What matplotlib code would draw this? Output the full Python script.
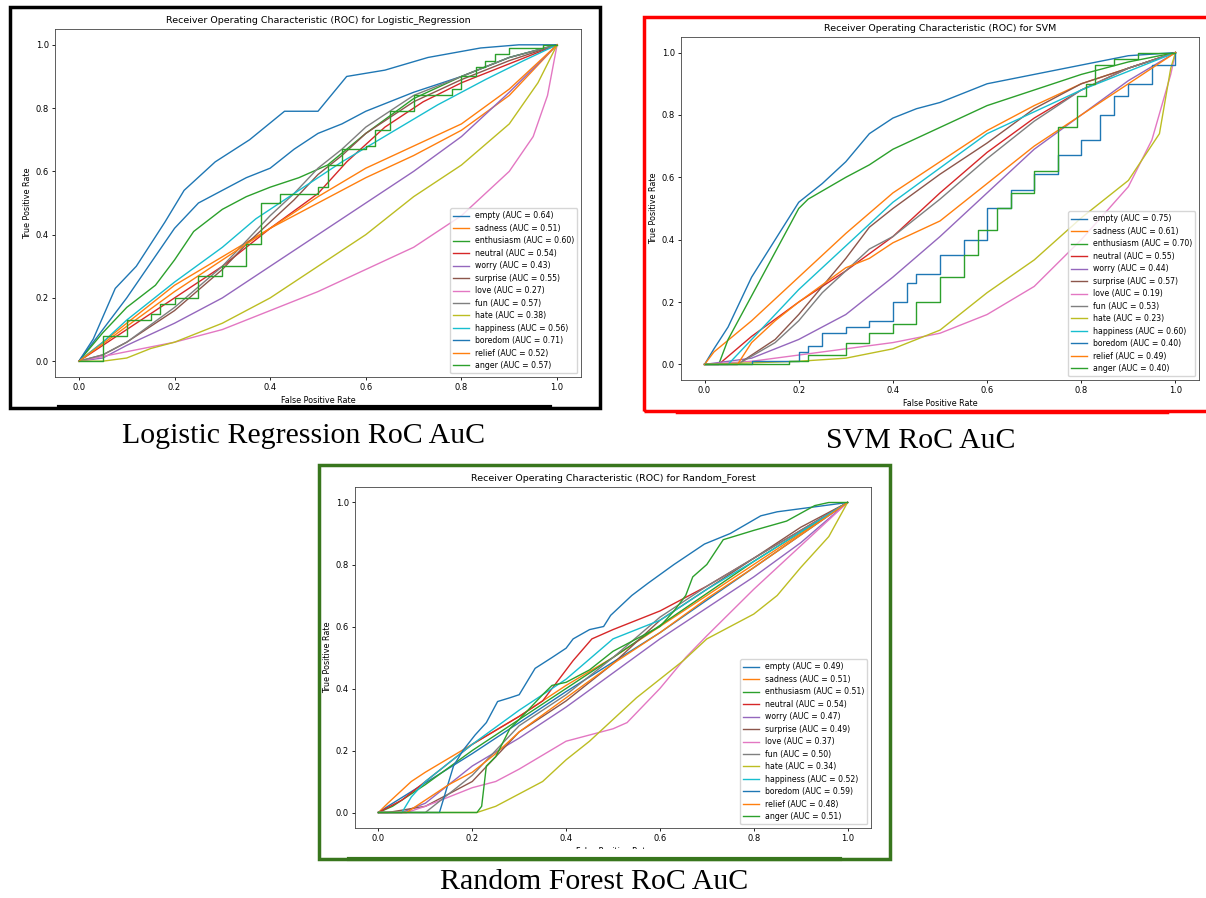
import matplotlib.pyplot as plt
from matplotlib.patches import Rectangle

# emotion classes in legend order, colours follow the tab10 cycle
emotions = ['empty', 'sadness', 'enthusiasm', 'neutral', 'worry', 'surprise', 'love',
            'fun', 'hate', 'happiness', 'boredom', 'relief', 'anger']

lr_auc = [0.64, 0.51, 0.60, 0.54, 0.43, 0.55, 0.27, 0.57, 0.38, 0.56, 0.71, 0.52, 0.57]
svm_auc = [0.75, 0.61, 0.70, 0.55, 0.44, 0.57, 0.19, 0.53, 0.23, 0.60, 0.40, 0.49, 0.40]
rf_auc = [0.49, 0.51, 0.51, 0.54, 0.47, 0.49, 0.37, 0.50, 0.34, 0.52, 0.59, 0.48, 0.51]

# (fpr, tpr) points
lr_curves = {
    'empty': [(0, 0), (0.05, 0.1), (0.1, 0.2), (0.15, 0.31), (0.2, 0.42), (0.25, 0.5), (0.3, 0.54),
              (0.35, 0.58), (0.4, 0.61), (0.45, 0.67), (0.5, 0.72), (0.55, 0.75), (0.6, 0.79),
              (0.7, 0.85), (0.8, 0.9), (0.9, 0.96), (1, 1)],
    'sadness': [(0, 0), (0.1, 0.12), (0.2, 0.24), (0.3, 0.33), (0.4, 0.42), (0.5, 0.5), (0.6, 0.58),
                (0.7, 0.65), (0.8, 0.73), (0.9, 0.84), (1, 1)],
    'enthusiasm': [(0, 0), (0.05, 0.09), (0.1, 0.17), (0.16, 0.24), (0.2, 0.32), (0.24, 0.41),
                   (0.3, 0.48), (0.35, 0.52), (0.4, 0.55), (0.46, 0.58), (0.52, 0.62), (0.6, 0.72),
                   (0.7, 0.83), (0.8, 0.9), (0.9, 0.96), (1, 1)],
    'neutral': [(0, 0), (0.05, 0.05), (0.1, 0.1), (0.2, 0.2), (0.3, 0.3), (0.4, 0.42), (0.5, 0.53),
                (0.56, 0.63), (0.64, 0.74), (0.72, 0.82), (0.8, 0.88), (0.9, 0.94), (1, 1)],
    'worry': [(0, 0), (0.05, 0.01), (0.1, 0.05), (0.2, 0.12), (0.3, 0.2), (0.4, 0.3), (0.5, 0.4),
              (0.6, 0.5), (0.7, 0.6), (0.8, 0.71), (0.9, 0.85), (1, 1)],
    'surprise': [(0, 0), (0.05, 0.02), (0.1, 0.06), (0.2, 0.16), (0.3, 0.29), (0.35, 0.37),
                 (0.4, 0.44), (0.45, 0.51), (0.5, 0.59), (0.55, 0.65), (0.6, 0.72), (0.65, 0.77),
                 (0.7, 0.82), (0.8, 0.89), (0.9, 0.95), (1, 1)],
    'love': [(0, 0), (0.1, 0.03), (0.2, 0.06), (0.3, 0.1), (0.4, 0.16), (0.5, 0.22), (0.6, 0.29),
             (0.7, 0.36), (0.8, 0.46), (0.9, 0.6), (0.95, 0.71), (0.98, 0.84), (1, 1)],
    'fun': [(0, 0), (0.05, 0.02), (0.1, 0.06), (0.2, 0.17), (0.3, 0.3), (0.35, 0.38), (0.4, 0.46),
            (0.45, 0.53), (0.5, 0.61), (0.55, 0.67), (0.6, 0.74), (0.65, 0.79), (0.7, 0.84),
            (0.8, 0.9), (0.9, 0.96), (1, 1)],
    'hate': [(0, 0), (0.05, 0.0), (0.1, 0.01), (0.15, 0.04), (0.2, 0.06), (0.3, 0.12), (0.4, 0.2),
             (0.5, 0.3), (0.6, 0.4), (0.7, 0.52), (0.8, 0.62), (0.9, 0.75), (0.96, 0.88), (1, 1)],
    'happiness': [(0, 0), (0.05, 0.06), (0.1, 0.13), (0.2, 0.25), (0.3, 0.36), (0.37, 0.45),
                  (0.45, 0.53), (0.55, 0.63), (0.65, 0.72), (0.75, 0.81), (0.85, 0.89),
                  (0.93, 0.95), (1, 1)],
    'boredom': [(0, 0), (0.03, 0.07), (0.076, 0.23), (0.12, 0.3), (0.18, 0.44), (0.22, 0.54),
                (0.285, 0.63), (0.357, 0.7), (0.43, 0.79), (0.5, 0.79), (0.56, 0.9), (0.64, 0.92),
                (0.73, 0.96), (0.84, 0.99), (0.92, 1.0), (1, 1)],
    'relief': [(0, 0), (0.1, 0.11), (0.2, 0.22), (0.3, 0.32), (0.4, 0.42), (0.5, 0.52), (0.6, 0.61),
               (0.7, 0.68), (0.8, 0.75), (0.9, 0.86), (1, 1)],
    'anger': [(0, 0), (0.04, 0.0), (0.05, 0.08), (0.1, 0.13), (0.15, 0.15), (0.17, 0.18), (0.2, 0.2),
              (0.25, 0.27), (0.3, 0.3), (0.35, 0.37), (0.38, 0.5), (0.42, 0.53), (0.5, 0.55),
              (0.52, 0.62), (0.55, 0.67), (0.6, 0.68), (0.62, 0.73), (0.65, 0.79), (0.7, 0.84),
              (0.78, 0.86), (0.8, 0.9), (0.83, 0.93), (0.85, 0.95), (0.87, 0.97), (0.9, 0.99),
              (0.97, 1.0), (1, 1)],
}

svm_curves = {
    'empty': [(0, 0), (0.02, 0.05), (0.05, 0.12), (0.1, 0.28), (0.15, 0.4), (0.2, 0.52), (0.25, 0.58),
              (0.3, 0.65), (0.35, 0.74), (0.4, 0.79), (0.45, 0.82), (0.5, 0.84), (0.6, 0.9),
              (0.7, 0.93), (0.8, 0.96), (0.9, 0.99), (1, 1)],
    'sadness': [(0, 0), (0.02, 0.04), (0.1, 0.14), (0.2, 0.28), (0.3, 0.42), (0.4, 0.55), (0.5, 0.65),
                (0.6, 0.75), (0.7, 0.83), (0.8, 0.9), (0.9, 0.95), (1, 1)],
    'enthusiasm': [(0, 0), (0.03, 0.0), (0.05, 0.08), (0.1, 0.22), (0.15, 0.36), (0.2, 0.5),
                   (0.22, 0.53), (0.3, 0.6), (0.35, 0.64), (0.4, 0.69), (0.5, 0.76), (0.6, 0.83),
                   (0.7, 0.88), (0.8, 0.93), (0.9, 0.97), (1, 1)],
    'neutral': [(0, 0), (0.03, 0.0), (0.1, 0.09), (0.2, 0.2), (0.3, 0.3), (0.4, 0.41), (0.5, 0.55),
                (0.6, 0.68), (0.7, 0.79), (0.8, 0.88), (0.9, 0.95), (1, 1)],
    'worry': [(0, 0), (0.1, 0.02), (0.2, 0.08), (0.3, 0.16), (0.4, 0.28), (0.5, 0.41), (0.6, 0.55),
              (0.7, 0.69), (0.8, 0.8), (0.9, 0.91), (1, 1)],
    'surprise': [(0, 0), (0.07, 0.0), (0.1, 0.03), (0.15, 0.08), (0.2, 0.16), (0.25, 0.25),
                 (0.3, 0.34), (0.35, 0.44), (0.4, 0.5), (0.5, 0.61), (0.6, 0.71), (0.7, 0.82),
                 (0.8, 0.9), (0.9, 0.95), (1, 1)],
    'love': [(0, 0), (0.1, 0.01), (0.2, 0.03), (0.3, 0.05), (0.4, 0.07), (0.5, 0.1), (0.6, 0.16),
             (0.7, 0.25), (0.8, 0.4), (0.9, 0.57), (0.95, 0.72), (0.99, 0.93), (1, 1)],
    'fun': [(0, 0), (0.07, 0.0), (0.15, 0.07), (0.2, 0.14), (0.25, 0.23), (0.3, 0.3), (0.35, 0.37),
            (0.4, 0.41), (0.5, 0.53), (0.6, 0.66), (0.7, 0.78), (0.8, 0.88), (0.9, 0.95), (1, 1)],
    'hate': [(0, 0), (0.2, 0.01), (0.3, 0.02), (0.4, 0.05), (0.5, 0.11), (0.6, 0.23), (0.7, 0.335),
             (0.8, 0.47), (0.9, 0.59), (0.966, 0.74), (0.99, 0.95), (1, 1)],
    'happiness': [(0, 0), (0.05, 0.0), (0.1, 0.08), (0.2, 0.24), (0.3, 0.38), (0.4, 0.52),
                  (0.5, 0.63), (0.6, 0.74), (0.7, 0.81), (0.8, 0.88), (0.9, 0.94), (1, 1)],
    'boredom': [(0, 0), (0.08, 0.0), (0.1, 0.01), (0.2, 0.04), (0.22, 0.06), (0.25, 0.1),
                (0.3, 0.12), (0.35, 0.14), (0.4, 0.2), (0.43, 0.26), (0.45, 0.29), (0.5, 0.35),
                (0.55, 0.4), (0.6, 0.5), (0.65, 0.56), (0.7, 0.61), (0.75, 0.67), (0.8, 0.72),
                (0.84, 0.8), (0.87, 0.86), (0.9, 0.9), (0.95, 0.96), (1, 1)],
    'relief': [(0, 0), (0.07, 0.0), (0.1, 0.07), (0.15, 0.14), (0.2, 0.2), (0.3, 0.31), (0.35, 0.34),
               (0.4, 0.39), (0.5, 0.46), (0.6, 0.58), (0.7, 0.7), (0.8, 0.8), (0.9, 0.9), (1, 1)],
    'anger': [(0, 0), (0.18, 0.01), (0.22, 0.03), (0.3, 0.07), (0.35, 0.1), (0.4, 0.13), (0.45, 0.2),
              (0.5, 0.28), (0.55, 0.35), (0.58, 0.43), (0.62, 0.5), (0.65, 0.55), (0.7, 0.62),
              (0.75, 0.76), (0.79, 0.86), (0.81, 0.9), (0.83, 0.96), (0.87, 0.98), (0.92, 1.0),
              (1, 1)],
}

rf_curves = {
    'empty': [(0, 0), (0.02, 0.02), (0.2, 0.19), (0.4, 0.39), (0.6, 0.58), (0.8, 0.79), (1, 1)],
    'sadness': [(0, 0), (0.02, 0.03), (0.07, 0.1), (0.1, 0.13), (0.2, 0.22), (0.3, 0.31),
                (0.4, 0.41), (0.5, 0.5), (0.6, 0.6), (0.8, 0.8), (1, 1)],
    'enthusiasm': [(0, 0), (0.03, 0.02), (0.1, 0.09), (0.2, 0.2), (0.3, 0.3), (0.5, 0.5),
                   (0.8, 0.81), (1, 1)],
    'neutral': [(0, 0), (0.05, 0.04), (0.1, 0.1), (0.2, 0.22), (0.3, 0.31), (0.35, 0.36),
                (0.37, 0.4), (0.415, 0.49), (0.455, 0.56), (0.5, 0.59), (0.6, 0.65), (0.7, 0.73),
                (0.8, 0.82), (0.9, 0.91), (1, 1)],
    'worry': [(0, 0), (0.05, 0.0), (0.1, 0.03), (0.2, 0.15), (0.3, 0.24), (0.4, 0.34), (0.5, 0.45),
              (0.6, 0.56), (0.7, 0.66), (0.8, 0.76), (0.9, 0.87), (1, 1)],
    'surprise': [(0, 0), (0.02, 0.0), (0.1, 0.02), (0.15, 0.06), (0.2, 0.1), (0.25, 0.18),
                 (0.3, 0.26), (0.4, 0.36), (0.5, 0.48), (0.6, 0.62), (0.7, 0.72), (0.8, 0.82),
                 (0.9, 0.92), (1, 1)],
    'love': [(0, 0), (0.06, 0.0), (0.1, 0.02), (0.2, 0.08), (0.25, 0.1), (0.3, 0.14), (0.4, 0.23),
             (0.45, 0.25), (0.5, 0.27), (0.53, 0.29), (0.6, 0.4), (0.655, 0.5), (0.7, 0.57),
             (0.8, 0.72), (0.9, 0.86), (1, 1)],
    'fun': [(0, 0), (0.1, 0.0), (0.15, 0.06), (0.2, 0.12), (0.25, 0.2), (0.3, 0.28), (0.4, 0.38),
            (0.5, 0.5), (0.6, 0.63), (0.7, 0.73), (0.8, 0.82), (1, 1)],
    'hate': [(0, 0), (0.21, 0.0), (0.25, 0.02), (0.3, 0.06), (0.35, 0.1), (0.4, 0.17), (0.45, 0.23),
             (0.5, 0.3), (0.55, 0.37), (0.6, 0.43), (0.65, 0.49), (0.7, 0.56), (0.75, 0.6),
             (0.8, 0.64), (0.85, 0.7), (0.9, 0.79), (0.96, 0.89), (1, 1)],
    'happiness': [(0, 0), (0.05, 0.0), (0.07, 0.05), (0.1, 0.1), (0.2, 0.22), (0.3, 0.33),
                  (0.4, 0.43), (0.5, 0.56), (0.6, 0.62), (0.7, 0.72), (0.8, 0.81), (1, 1)],
    'boredom': [(0, 0), (0.13, 0.0), (0.14, 0.05), (0.16, 0.15), (0.18, 0.2), (0.206, 0.25),
                (0.23, 0.29), (0.254, 0.358), (0.28, 0.37), (0.3, 0.38), (0.334, 0.465),
                (0.37, 0.5), (0.4, 0.53), (0.415, 0.56), (0.45, 0.59), (0.48, 0.6), (0.495, 0.636),
                (0.54, 0.7), (0.575, 0.74), (0.63, 0.8), (0.695, 0.866), (0.75, 0.9),
                (0.815, 0.957), (0.85, 0.97), (0.9, 0.98), (1, 1)],
    'relief': [(0, 0), (0.06, 0.0), (0.1, 0.04), (0.15, 0.09), (0.2, 0.13), (0.25, 0.19),
               (0.3, 0.26), (0.4, 0.37), (0.5, 0.48), (0.6, 0.58), (0.7, 0.69), (0.8, 0.79), (1, 1)],
    'anger': [(0, 0), (0.21, 0.0), (0.22, 0.02), (0.23, 0.15), (0.25, 0.18), (0.28, 0.27),
              (0.3, 0.3), (0.35, 0.38), (0.37, 0.41), (0.4, 0.42), (0.45, 0.46), (0.5, 0.52),
              (0.55, 0.56), (0.6, 0.6), (0.63, 0.65), (0.655, 0.7), (0.67, 0.76), (0.7, 0.8),
              (0.735, 0.88), (0.8, 0.91), (0.87, 0.94), (0.93, 0.99), (0.96, 1.0), (1, 1)],
}

step_curves = {'lr': ['anger'], 'svm': ['boredom', 'anger'], 'rf': []}

W, H = 1206, 898
fig = plt.figure(figsize=(W / 100, H / 100), dpi=100)
colors = plt.rcParams['axes.prop_cycle'].by_key()['color']


def px_rect(left, top, right, bottom):
    return [left / W, 1 - bottom / H, (right - left) / W, (bottom - top) / H]


def plot_roc(rect, curves, aucs, name, steps):
    ax = fig.add_axes(px_rect(*rect))
    for i, (emo, auc) in enumerate(zip(emotions, aucs)):
        fpr = [p[0] for p in curves[emo]]
        tpr = [p[1] for p in curves[emo]]
        ds = 'steps-post' if emo in steps else 'default'
        ax.plot(fpr, tpr, color=colors[i % 10], lw=1.0, drawstyle=ds,
                label=f'{emo} (AUC = {auc:.2f})')
    ax.set_xlim(-0.05, 1.05)
    ax.set_ylim(-0.05, 1.05)
    ax.set_title(f'Receiver Operating Characteristic (ROC) for {name}', fontsize=6.8, pad=4)
    ax.set_xlabel('False Positive Rate', fontsize=5.8, labelpad=2.5)
    ax.set_ylabel('True Positive Rate', fontsize=5.8, labelpad=2.5)
    ax.tick_params(labelsize=6, length=2.2, width=0.6, pad=2.2)
    for s in ax.spines.values():
        s.set_linewidth(0.6)
        s.set_color('#444444')
    ax.legend(loc='lower right', fontsize=5.55, handlelength=2.0, borderpad=0.4,
              labelspacing=0.45, framealpha=0.8)
    return ax


def frame(left, top, right, bottom, color):
    fig.patches.append(Rectangle((left / W, 1 - bottom / H), (right - left) / W, (bottom - top) / H,
                                 transform=fig.transFigure, fill=False, edgecolor=color, lw=2.5))


plot_roc((55, 29, 581, 377), lr_curves, lr_auc, 'Logistic_Regression', step_curves['lr'])
plot_roc((681, 37, 1199, 380), svm_curves, svm_auc, 'SVM', step_curves['svm'])
plot_roc((355, 487, 871, 828), rf_curves, rf_auc, 'Random_Forest', step_curves['rf'])

# white strip that hides the lower half of the last x-label, as in the screenshot
fig.patches.append(Rectangle((330 / W, 1 - 856 / H), 540 / W, 7 / H, transform=fig.transFigure,
                             facecolor='white', edgecolor='none', zorder=5))

frame(10, 7, 600, 408, 'black')
frame(644, 17, 1210, 411, '#ff0000')
frame(319, 465, 890, 859, '#38761d')
fig.add_artist(plt.Line2D([59 / W, 550 / W], [1 - 407 / H] * 2, color='black', lw=3))
fig.add_artist(plt.Line2D([677 / W, 1167 / W], [1 - 411.5 / H] * 2, color='#ff0000', lw=2.5))
fig.add_artist(plt.Line2D([349 / W, 840 / W], [1 - 858.5 / H] * 2, color='#38761d', lw=3))

cap = dict(family='Liberation Serif', fontsize=21.5, ha='center', va='center')
fig.text(304 / W, 1 - 436 / H, 'Logistic Regression RoC AuC', **cap)
fig.text(921 / W, 1 - 441 / H, 'SVM RoC AuC', **cap)
fig.text(594 / W, 1 - 882 / H, 'Random Forest RoC AuC', **cap)

fig.savefig('out.png', dpi=100)
